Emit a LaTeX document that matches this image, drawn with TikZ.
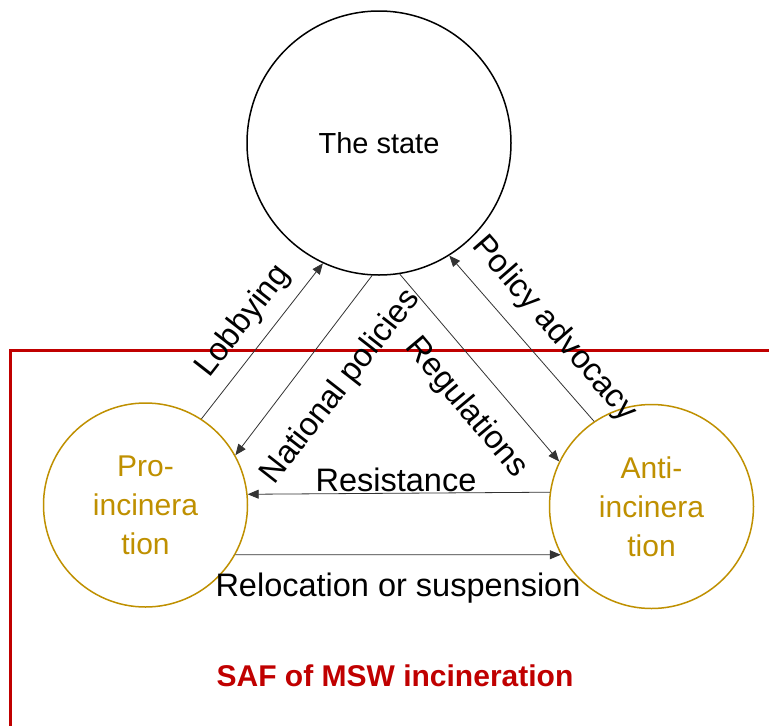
\documentclass[tikz,border=0pt]{standalone}
\usepackage{fontspec}
\setmainfont{Liberation Sans}
\usetikzlibrary{arrows.meta}
\definecolor{gold}{HTML}{BF9000}
\definecolor{saf}{HTML}{C00000}
\definecolor{conn}{HTML}{333333}
\begin{document}
\begin{tikzpicture}[x=1pt,y=-1pt,
  actor/.style={circle, draw=gold, line width=1.5pt, minimum size=204pt, inner sep=0pt, text=gold, align=center, font=\fontsize{30}{39}\selectfont},
  statenode/.style={circle, draw=black, line width=1.5pt, minimum size=264pt, inner sep=0pt, font=\fontsize{29}{35}\selectfont},
  flow/.style={draw=conn, line width=0.8pt, -{Triangle[length=11pt,width=9pt]}},
  lbl/.style={font=\fontsize{32.5}{38}\selectfont, inner sep=0pt},
]
\useasboundingbox (0,0) rectangle (769,726);
\fill[white] (0,0) rectangle (769,726);
\draw[saf, line width=3pt] (10.8,726) -- (10.8,350) -- (769,350);

\node[statenode] (state) at (379,143) {The state};
\node[actor] (pro) at (145.5,505) {Pro-\\incinera\\tion};
\node[actor] (anti) at (651.5,506.5) {Anti-\\incinera\\tion};

\draw[flow] (pro.57) -- (state.-115);
\draw[flow] (state.-93.5) -- (pro.29.7);
\draw[flow] (state.-81.5) -- (anti.154.7);
\draw[flow] (anti.124.5) -- (state.-58);
\draw[flow] (anti.172.5) -- (pro.6.5);
\draw[flow] (pro.-29.5) -- (anti.-152.2);

\node[lbl, rotate=52] (lob) at (243.5,321.5) {Lobbying};
\node[lbl, rotate=52] (nat) at (341,387) {National policies};
\node[lbl, rotate=-50] (reg) at (466,408) {Regulations};
\node[lbl, rotate=-49] (pol) at (554,329) {Policy advocacy};
\node[lbl] (res) at (396,480) {Resistance};
\node[lbl] (rel) at (398,588) {Relocation or suspension};
\node[font=\bfseries\fontsize{30}{36}\selectfont, text=saf, inner sep=0pt] (saflbl) at (395,676) {SAF of MSW incineration};
\end{tikzpicture}
\end{document}
